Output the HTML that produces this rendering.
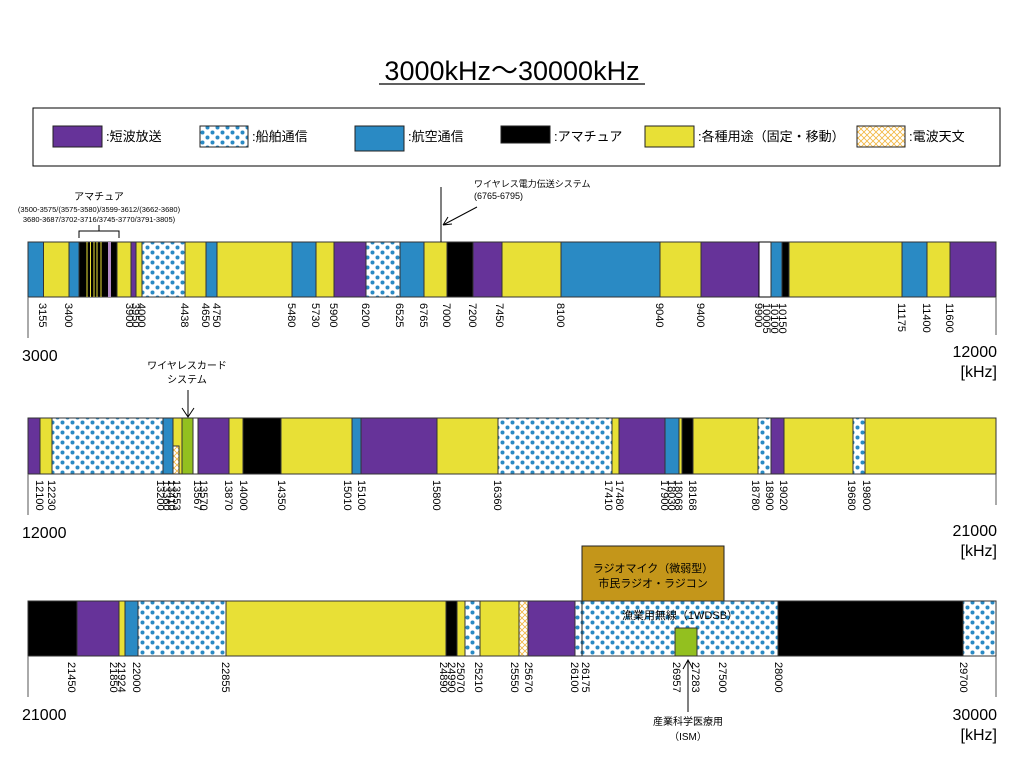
<!DOCTYPE html>
<html><head><meta charset="utf-8"><style>body{margin:0;background:#fff}svg{display:block}</style></head><body>
<svg width="1024" height="768" xmlns="http://www.w3.org/2000/svg" font-family="Liberation Sans, Noto Sans CJK JP, sans-serif">
<defs>
<pattern id="dt" width="10" height="10" patternUnits="userSpaceOnUse"><rect width="10" height="10" fill="#fff"/><circle cx="2.5" cy="2.5" r="2" fill="#2A8AC4"/><circle cx="7.5" cy="7.5" r="2" fill="#2A8AC4"/></pattern>
<pattern id="hx" width="6" height="6" patternUnits="userSpaceOnUse"><rect width="6" height="6" fill="#fff"/><path d="M0 0L6 6M6 0L0 6" stroke="#F2B640" stroke-width="0.8"/></pattern>
</defs>
<text x="512" y="80" font-size="27" text-anchor="middle">3000kHz～30000kHz</text>
<line x1="379" y1="84" x2="645" y2="84" stroke="#000" stroke-width="1.3"/>
<rect x="33" y="108" width="967" height="58" fill="#fff" stroke="#000"/>
<g font-size="13" stroke="#222" stroke-width="1">
<rect x="53" y="126" width="49" height="21" fill="#663399"/><rect x="200" y="126" width="48" height="21" fill="url(#dt)"/><rect x="355" y="126" width="49" height="25" fill="#2A8AC4"/><rect x="501" y="126" width="49" height="17" fill="#000"/><rect x="645" y="126" width="49" height="21" fill="#E8E036"/><rect x="857" y="126" width="48" height="21" fill="url(#hx)"/>
</g>
<g font-size="13"><text x="106" y="141">:短波放送</text><text x="252" y="141">:船舶通信</text><text x="408" y="141">:航空通信</text><text x="554" y="141">:アマチュア</text><text x="698" y="141">:各種用途（固定・移動）</text><text x="909" y="141">:電波天文</text></g>

<!-- Row1 -->
<g stroke="#333" stroke-width="1">
<rect x="28" y="242" width="15.5" height="55" fill="#2A8AC4"/><rect x="43.5" y="242" width="25.5" height="55" fill="#E8E036"/><rect x="69" y="242" width="10" height="55" fill="#2A8AC4"/><rect x="79" y="242" width="38" height="55" fill="#000"/>
<rect x="117" y="242" width="14" height="55" fill="#E8E036"/><rect x="131" y="242" width="5" height="55" fill="#663399"/><rect x="136" y="242" width="6" height="55" fill="#E8E036"/><rect x="142" y="242" width="43" height="55" fill="url(#dt)"/><rect x="185" y="242" width="21" height="55" fill="#E8E036"/><rect x="206" y="242" width="11" height="55" fill="#2A8AC4"/><rect x="217" y="242" width="75" height="55" fill="#E8E036"/><rect x="292" y="242" width="24" height="55" fill="#2A8AC4"/><rect x="316" y="242" width="18" height="55" fill="#E8E036"/><rect x="334" y="242" width="32" height="55" fill="#663399"/><rect x="366" y="242" width="34" height="55" fill="url(#dt)"/><rect x="400" y="242" width="24" height="55" fill="#2A8AC4"/><rect x="424" y="242" width="23" height="55" fill="#E8E036"/><rect x="447" y="242" width="26" height="55" fill="#000"/><rect x="473" y="242" width="29" height="55" fill="#663399"/><rect x="502" y="242" width="59" height="55" fill="#E8E036"/><rect x="561" y="242" width="99" height="55" fill="#2A8AC4"/><rect x="660" y="242" width="41" height="55" fill="#E8E036"/><rect x="701" y="242" width="58" height="55" fill="#663399"/><rect x="759" y="242" width="12" height="55" fill="#fff" stroke="#000"/><rect x="771" y="242" width="11" height="55" fill="#2A8AC4"/><rect x="782" y="242" width="7" height="55" fill="#000"/><rect x="789" y="242" width="113" height="55" fill="#E8E036"/><rect x="902" y="242" width="25" height="55" fill="#2A8AC4"/><rect x="927" y="242" width="23" height="55" fill="#E8E036"/><rect x="950" y="242" width="46" height="55" fill="#663399"/>
</g>
<g stroke="#E8E036" stroke-width="1"><line x1="87" y1="242" x2="87" y2="297"/><line x1="90.5" y1="242" x2="90.5" y2="297"/><line x1="94" y1="242" x2="94" y2="297"/><line x1="97" y1="242" x2="97" y2="297"/><line x1="101" y1="242" x2="101" y2="297"/></g>
<rect x="108" y="242" width="3" height="55" fill="#B58CC8"/>
<g stroke="#555"><line x1="28" y1="297" x2="28" y2="338"/><line x1="996" y1="297" x2="996" y2="335"/></g>
<g font-size="11">
<text transform="translate(39,303) rotate(90)">3155</text><text transform="translate(65,303) rotate(90)">3400</text><text transform="translate(126,303) rotate(90)">3900</text><text transform="translate(132,303) rotate(90)">3950</text><text transform="translate(138,303) rotate(90)">4000</text><text transform="translate(181,303) rotate(90)">4438</text><text transform="translate(202,303) rotate(90)">4650</text><text transform="translate(213,303) rotate(90)">4750</text><text transform="translate(288,303) rotate(90)">5480</text><text transform="translate(312,303) rotate(90)">5730</text><text transform="translate(330,303) rotate(90)">5900</text><text transform="translate(362,303) rotate(90)">6200</text><text transform="translate(396,303) rotate(90)">6525</text><text transform="translate(420,303) rotate(90)">6765</text><text transform="translate(443,303) rotate(90)">7000</text><text transform="translate(469,303) rotate(90)">7200</text><text transform="translate(496,303) rotate(90)">7450</text><text transform="translate(557,303) rotate(90)">8100</text><text transform="translate(656,303) rotate(90)">9040</text><text transform="translate(697,303) rotate(90)">9400</text><text transform="translate(755,303) rotate(90)">9900</text><text transform="translate(763,303) rotate(90)">10005</text><text transform="translate(771,303) rotate(90)">10100</text><text transform="translate(779,303) rotate(90)">10150</text><text transform="translate(898,303) rotate(90)">11175</text><text transform="translate(923,303) rotate(90)">11400</text><text transform="translate(946,303) rotate(90)">11600</text>
</g>
<text x="22" y="361" font-size="16">3000</text><text x="997" y="357" font-size="16" text-anchor="end">12000</text><text x="997" y="377" font-size="16" text-anchor="end">[kHz]</text>
<text x="99" y="200" font-size="10" text-anchor="middle">アマチュア</text>
<text x="99" y="212" font-size="7.5" text-anchor="middle">(3500-3575/(3575-3580)/3599-3612/(3662-3680)</text>
<text x="99" y="222" font-size="7.5" text-anchor="middle">3680-3687/3702-3716/3745-3770/3791-3805)</text>
<path d="M79 238V231H119V238M99 231V225" fill="none" stroke="#000"/>
<text x="474" y="187" font-size="9">ワイヤレス電力伝送システム</text><text x="474" y="199" font-size="9">(6765-6795)</text>
<line x1="441" y1="187" x2="441" y2="242" stroke="#000"/>
<path d="M477 207L443 225M443 225L452 224M443 225L448 217" stroke="#000" fill="none"/>

<!-- Row2 -->
<g stroke="#333" stroke-width="1">
<rect x="28" y="418" width="12" height="56" fill="#663399"/><rect x="40" y="418" width="12" height="56" fill="#E8E036"/><rect x="52" y="418" width="111" height="56" fill="url(#dt)"/><rect x="163" y="418" width="10" height="56" fill="#2A8AC4"/><rect x="173" y="418" width="9" height="56" fill="#E8E036"/><rect x="173" y="446" width="6" height="28" fill="url(#hx)"/><rect x="182" y="418" width="11" height="56" fill="#93C01F"/><rect x="193" y="418" width="5" height="56" fill="#fff"/><rect x="198" y="418" width="31" height="56" fill="#663399"/><rect x="229" y="418" width="14" height="56" fill="#E8E036"/><rect x="243" y="418" width="38" height="56" fill="#000"/><rect x="281" y="418" width="71" height="56" fill="#E8E036"/><rect x="352" y="418" width="9" height="56" fill="#2A8AC4"/><rect x="361" y="418" width="76" height="56" fill="#663399"/><rect x="437" y="418" width="61" height="56" fill="#E8E036"/><rect x="498" y="418" width="114" height="56" fill="url(#dt)"/><rect x="612" y="418" width="7" height="56" fill="#E8E036"/><rect x="619" y="418" width="46" height="56" fill="#663399"/><rect x="665" y="418" width="14" height="56" fill="#2A8AC4"/><rect x="679" y="418" width="3" height="56" fill="#E8E036"/><rect x="682" y="418" width="11" height="56" fill="#000"/><rect x="693" y="418" width="65" height="56" fill="#E8E036"/><rect x="758" y="418" width="13" height="56" fill="url(#dt)"/><rect x="771" y="418" width="13" height="56" fill="#663399"/><rect x="784" y="418" width="69" height="56" fill="#E8E036"/><rect x="853" y="418" width="12" height="56" fill="url(#dt)"/><rect x="865" y="418" width="131" height="56" fill="#E8E036"/>
</g>
<g stroke="#555"><line x1="28" y1="474" x2="28" y2="515"/><line x1="996" y1="474" x2="996" y2="505"/></g>
<g font-size="11">
<text transform="translate(36,480) rotate(90)">12100</text><text transform="translate(48,480) rotate(90)">12230</text><text transform="translate(157,480) rotate(90)">13200</text><text transform="translate(163,480) rotate(90)">13360</text><text transform="translate(168,480) rotate(90)">13410</text><text transform="translate(173,480) rotate(90)">13553</text><text transform="translate(194,480) rotate(90)">13567</text><text transform="translate(200,480) rotate(90)">13570</text><text transform="translate(225,480) rotate(90)">13870</text><text transform="translate(240,480) rotate(90)">14000</text><text transform="translate(278,480) rotate(90)">14350</text><text transform="translate(344,480) rotate(90)">15010</text><text transform="translate(358,480) rotate(90)">15100</text><text transform="translate(433,480) rotate(90)">15800</text><text transform="translate(494,480) rotate(90)">16360</text><text transform="translate(605,480) rotate(90)">17410</text><text transform="translate(616,480) rotate(90)">17480</text><text transform="translate(661,480) rotate(90)">17900</text><text transform="translate(668,480) rotate(90)">18030</text><text transform="translate(675,480) rotate(90)">18068</text><text transform="translate(689,480) rotate(90)">18168</text><text transform="translate(752,480) rotate(90)">18780</text><text transform="translate(766,480) rotate(90)">18900</text><text transform="translate(780,480) rotate(90)">19020</text><text transform="translate(848,480) rotate(90)">19680</text><text transform="translate(863,480) rotate(90)">19800</text>
</g>
<text x="22" y="538" font-size="16">12000</text><text x="997" y="536" font-size="16" text-anchor="end">21000</text><text x="997" y="556" font-size="16" text-anchor="end">[kHz]</text>
<text x="187" y="369" font-size="10" text-anchor="middle">ワイヤレスカード</text><text x="187" y="383" font-size="10" text-anchor="middle">システム</text>
<path d="M188 390V417M182 408L188 417L194 408" stroke="#000" fill="none"/>

<!-- Row3 -->
<rect x="582" y="546" width="142" height="55" fill="#C4961A" stroke="#222"/>
<text x="653" y="572" font-size="11" text-anchor="middle">ラジオマイク（微弱型）</text><text x="653" y="587" font-size="11" text-anchor="middle">市民ラジオ・ラジコン</text>
<g stroke="#333" stroke-width="1">
<rect x="28" y="601" width="49" height="55" fill="#000"/><rect x="77" y="601" width="42" height="55" fill="#663399"/><rect x="119" y="601" width="6" height="55" fill="#E8E036"/><rect x="125" y="601" width="13" height="55" fill="#2A8AC4"/><rect x="138" y="601" width="88" height="55" fill="url(#dt)"/><rect x="226" y="601" width="220" height="55" fill="#E8E036"/><rect x="446" y="601" width="11" height="55" fill="#000"/><rect x="457" y="601" width="8" height="55" fill="#E8E036"/><rect x="465" y="601" width="15" height="55" fill="url(#dt)"/><rect x="480" y="601" width="39" height="55" fill="#E8E036"/><rect x="519" y="601" width="9" height="55" fill="url(#hx)"/><rect x="528" y="601" width="47" height="55" fill="#663399"/><rect x="575" y="601" width="203" height="55" fill="url(#dt)"/><rect x="778" y="601" width="185" height="55" fill="#000"/><rect x="963" y="601" width="33" height="55" fill="url(#dt)"/>
<rect x="675" y="628" width="22" height="28" fill="#93C01F"/>
</g>
<line x1="582" y1="601" x2="582" y2="656" stroke="#222"/>
<text x="680" y="619" font-size="11" text-anchor="middle">漁業用無線（1WDSB）</text>
<g stroke="#555"><line x1="28" y1="656" x2="28" y2="697"/><line x1="996" y1="656" x2="996" y2="697"/></g>
<g font-size="11">
<text transform="translate(68,662) rotate(90)">21450</text><text transform="translate(110,662) rotate(90)">21850</text><text transform="translate(118,662) rotate(90)">21924</text><text transform="translate(133,662) rotate(90)">22000</text><text transform="translate(222,662) rotate(90)">22855</text><text transform="translate(440,662) rotate(90)">24890</text><text transform="translate(448,662) rotate(90)">24990</text><text transform="translate(457,662) rotate(90)">25070</text><text transform="translate(475,662) rotate(90)">25210</text><text transform="translate(511,662) rotate(90)">25550</text><text transform="translate(525,662) rotate(90)">25670</text><text transform="translate(571,662) rotate(90)">26100</text><text transform="translate(582,662) rotate(90)">26175</text><text transform="translate(673,662) rotate(90)">26957</text><text transform="translate(692,662) rotate(90)">27283</text><text transform="translate(719,662) rotate(90)">27500</text><text transform="translate(775,662) rotate(90)">28000</text><text transform="translate(960,662) rotate(90)">29700</text>
</g>
<text x="22" y="720" font-size="16">21000</text><text x="997" y="720" font-size="16" text-anchor="end">30000</text><text x="997" y="740" font-size="16" text-anchor="end">[kHz]</text>
<path d="M688 712V660M683 669L688 660L693 669" stroke="#000" fill="none"/>
<text x="688" y="725" font-size="10" text-anchor="middle">産業科学医療用</text><text x="688" y="740" font-size="10" text-anchor="middle">（ISM）</text>
</svg>
</body></html>
